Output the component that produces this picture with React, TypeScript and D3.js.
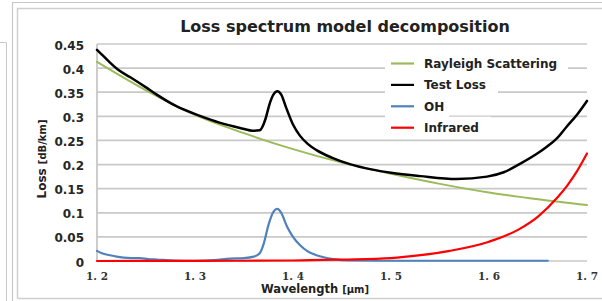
import React from "react";
import * as d3 from "d3";

const title = "Loss spectrum model decomposition";
const seriesNames = ["Rayleigh Scattering", "Test Loss", "OH", "Infrared"];
const seriesColors = ["#9bbb59", "#000000", "#4f81bd", "#ff0000"];

const rayleighWl = [1.2, 1.25, 1.3, 1.35, 1.4, 1.45, 1.5, 1.55, 1.6, 1.65, 1.7];
const rayleighVal = [0.413, 0.354, 0.303, 0.265, 0.232, 0.204, 0.181, 0.16, 0.142, 0.128, 0.116];

const testWl = [1.2, 1.205, 1.213, 1.222, 1.234, 1.25, 1.261, 1.28, 1.305, 1.325, 1.346, 1.36, 1.366, 1.372, 1.376, 1.38, 1.384, 1.388, 1.393, 1.4, 1.407, 1.415, 1.424, 1.44, 1.458, 1.48, 1.5, 1.53, 1.567, 1.598, 1.615, 1.632, 1.65, 1.659, 1.67, 1.679, 1.69, 1.7];
const testVal = [0.438, 0.428, 0.412, 0.396, 0.381, 0.36, 0.345, 0.322, 0.301, 0.287, 0.276, 0.27, 0.271, 0.295, 0.325, 0.345, 0.352, 0.345, 0.318, 0.283, 0.26, 0.243, 0.23, 0.214, 0.201, 0.19, 0.183, 0.176, 0.17, 0.175, 0.184, 0.202, 0.224, 0.237, 0.256, 0.278, 0.304, 0.332];

const ohWl = [1.2, 1.205, 1.213, 1.22, 1.227, 1.235, 1.244, 1.252, 1.261, 1.28, 1.3, 1.32, 1.336, 1.35, 1.36, 1.366, 1.37, 1.375, 1.38, 1.384, 1.388, 1.394, 1.4, 1.407, 1.415, 1.424, 1.441, 1.46, 1.5, 1.6, 1.66];
const ohVal = [0.021, 0.016, 0.012, 0.009, 0.007, 0.006, 0.006, 0.004, 0.003, 0.001, 0.0005, 0.002, 0.005, 0.006, 0.009, 0.016, 0.035, 0.075, 0.102, 0.108, 0.1, 0.071, 0.05, 0.033, 0.02, 0.012, 0.004, 0.001, 0.0005, 0.0005, 0.0005];

const irWl = [1.2, 1.3, 1.4, 1.45, 1.5, 1.53, 1.56, 1.6, 1.63, 1.65, 1.67, 1.68, 1.69, 1.7];
const irVal = [0, 0.0003, 0.001, 0.003, 0.006, 0.012, 0.021, 0.04, 0.065, 0.092, 0.132, 0.157, 0.187, 0.223];

const yTicks = [0, 0.05, 0.1, 0.15, 0.2, 0.25, 0.3, 0.35, 0.4, 0.45];
const yTickLabels = ["0", "0.05", "0.1", "0.15", "0.2", "0.25", "0.3", "0.35", "0.4", "0.45"];
const xTicks = [1.2, 1.3, 1.4, 1.5, 1.6, 1.7];
const xTickLabels = ["1. 2", "1. 3", "1. 4", "1. 5", "1. 6", "1. 7"];

const W = 602;
const H = 301;
const FONT = "'DejaVu Sans', Verdana, sans-serif";

export default function App() {
  const x = d3.scaleLinear().domain([1.2, 1.7]).range([97, 587]);
  const y = d3.scaleLinear().domain([0, 0.45]).range([261, 44]);

  const mk = (wl: number[], v: number[]) => {
    const pts: [number, number][] = wl.map((w, i) => [w, v[i]]);
    return d3
      .line<[number, number]>()
      .x((d) => x(d[0]))
      .y((d) => y(d[1]))
      .curve(d3.curveMonotoneX)(pts) as string;
  };

  const paths = [
    { d: mk(rayleighWl, rayleighVal), c: seriesColors[0], w: 1.9 },
    { d: mk(testWl, testVal), c: seriesColors[1], w: 2.5 },
    { d: mk(ohWl, ohVal), c: seriesColors[2], w: 2.2 },
    { d: mk(irWl, irVal), c: seriesColors[3], w: 2.2 },
  ];

  const legX = 391;
  const legY0 = 63.5;
  const legStep = 21.4;
  const textW = (s: string) => s.length * 7.0;

  return (
    <svg
      width={W}
      height={H}
      style={{ position: "absolute", left: 0, top: 0, background: "#fff" }}
    >
      <rect x={0} y={0} width={W} height={H} fill="#fff" />
      {/* frames */}
      <path d="M0,42.5 H6.5 V301" fill="none" stroke="#c8c8c8" strokeWidth={1} />
      <path d="M12.5,301 V2.5 H602" fill="none" stroke="#c8c8c8" strokeWidth={1.2} />
      <path d="M17.5,298.5 V8.5 H602 M17.5,298.5 H602" fill="none" stroke="#cfcfcf" strokeWidth={1.5} />

      {/* title */}
      <text x={345} y={32} textAnchor="middle" fontFamily={FONT} fontWeight="bold" fontSize={16} fill="#222">
        {title}
      </text>

      {/* gridlines */}
      {yTicks.map((t) => (
        <line key={t} x1={97} x2={587} y1={y(t)} y2={y(t)} stroke="#c9c9c9" strokeWidth={1.7} />
      ))}
      <line x1={97} x2={97} y1={y(0.45)} y2={y(0)} stroke="#c4c4c4" strokeWidth={1.7} />

      {/* y tick labels */}
      {yTicks.map((t, i) => (
        <text key={t} x={84} y={y(t) + 5.5} textAnchor="end" fontFamily={FONT} fontWeight="bold" fontSize={12} fill="#262626">
          {yTickLabels[i]}
        </text>
      ))}

      {/* x tick labels */}
      {xTicks.map((t, i) => (
        <text key={t} x={x(t)} y={279.5} textAnchor="middle" fontFamily="'DejaVu Serif', serif" fontWeight="bold" fontSize={10.5} fill="#333">
          {xTickLabels[i]}
        </text>
      ))}

      {/* axis titles */}
      <text x={315} y={292.5} textAnchor="middle" fontFamily={FONT} fontWeight="bold" fill="#222">
        <tspan fontSize={11.5}>Wavelength </tspan>
        <tspan fontSize={10}>[μm]</tspan>
      </text>
      <text transform="translate(46,159) rotate(-90)" textAnchor="middle" fontFamily={FONT} fontWeight="bold" fill="#222">
        <tspan fontSize={12}>Loss </tspan>
        <tspan fontSize={10}>[dB/km]</tspan>
      </text>

      {/* legend backing boxes */}
      {seriesNames.map((n, i) => (
        <rect key={n} x={385} y={legY0 + i * legStep - 11} width={424 - 385 + textW(n) + 11} height={22} fill="#fff" />
      ))}

      {/* series */}
      {paths.map((p, i) => (
        <path key={i} d={p.d} fill="none" stroke={p.c} strokeWidth={p.w} strokeLinejoin="round" strokeLinecap="round" />
      ))}

      {/* legend */}
      {seriesNames.map((n, i) => (
        <g key={n}>
          <line x1={legX} x2={legX + 23} y1={legY0 + i * legStep} y2={legY0 + i * legStep} stroke={seriesColors[i]} strokeWidth={2.2} />
          <text x={424} y={legY0 + i * legStep + 4.3} fontFamily={FONT} fontWeight="bold" fontSize={12} fill="#222">
            {n}
          </text>
        </g>
      ))}
    </svg>
  );
}
